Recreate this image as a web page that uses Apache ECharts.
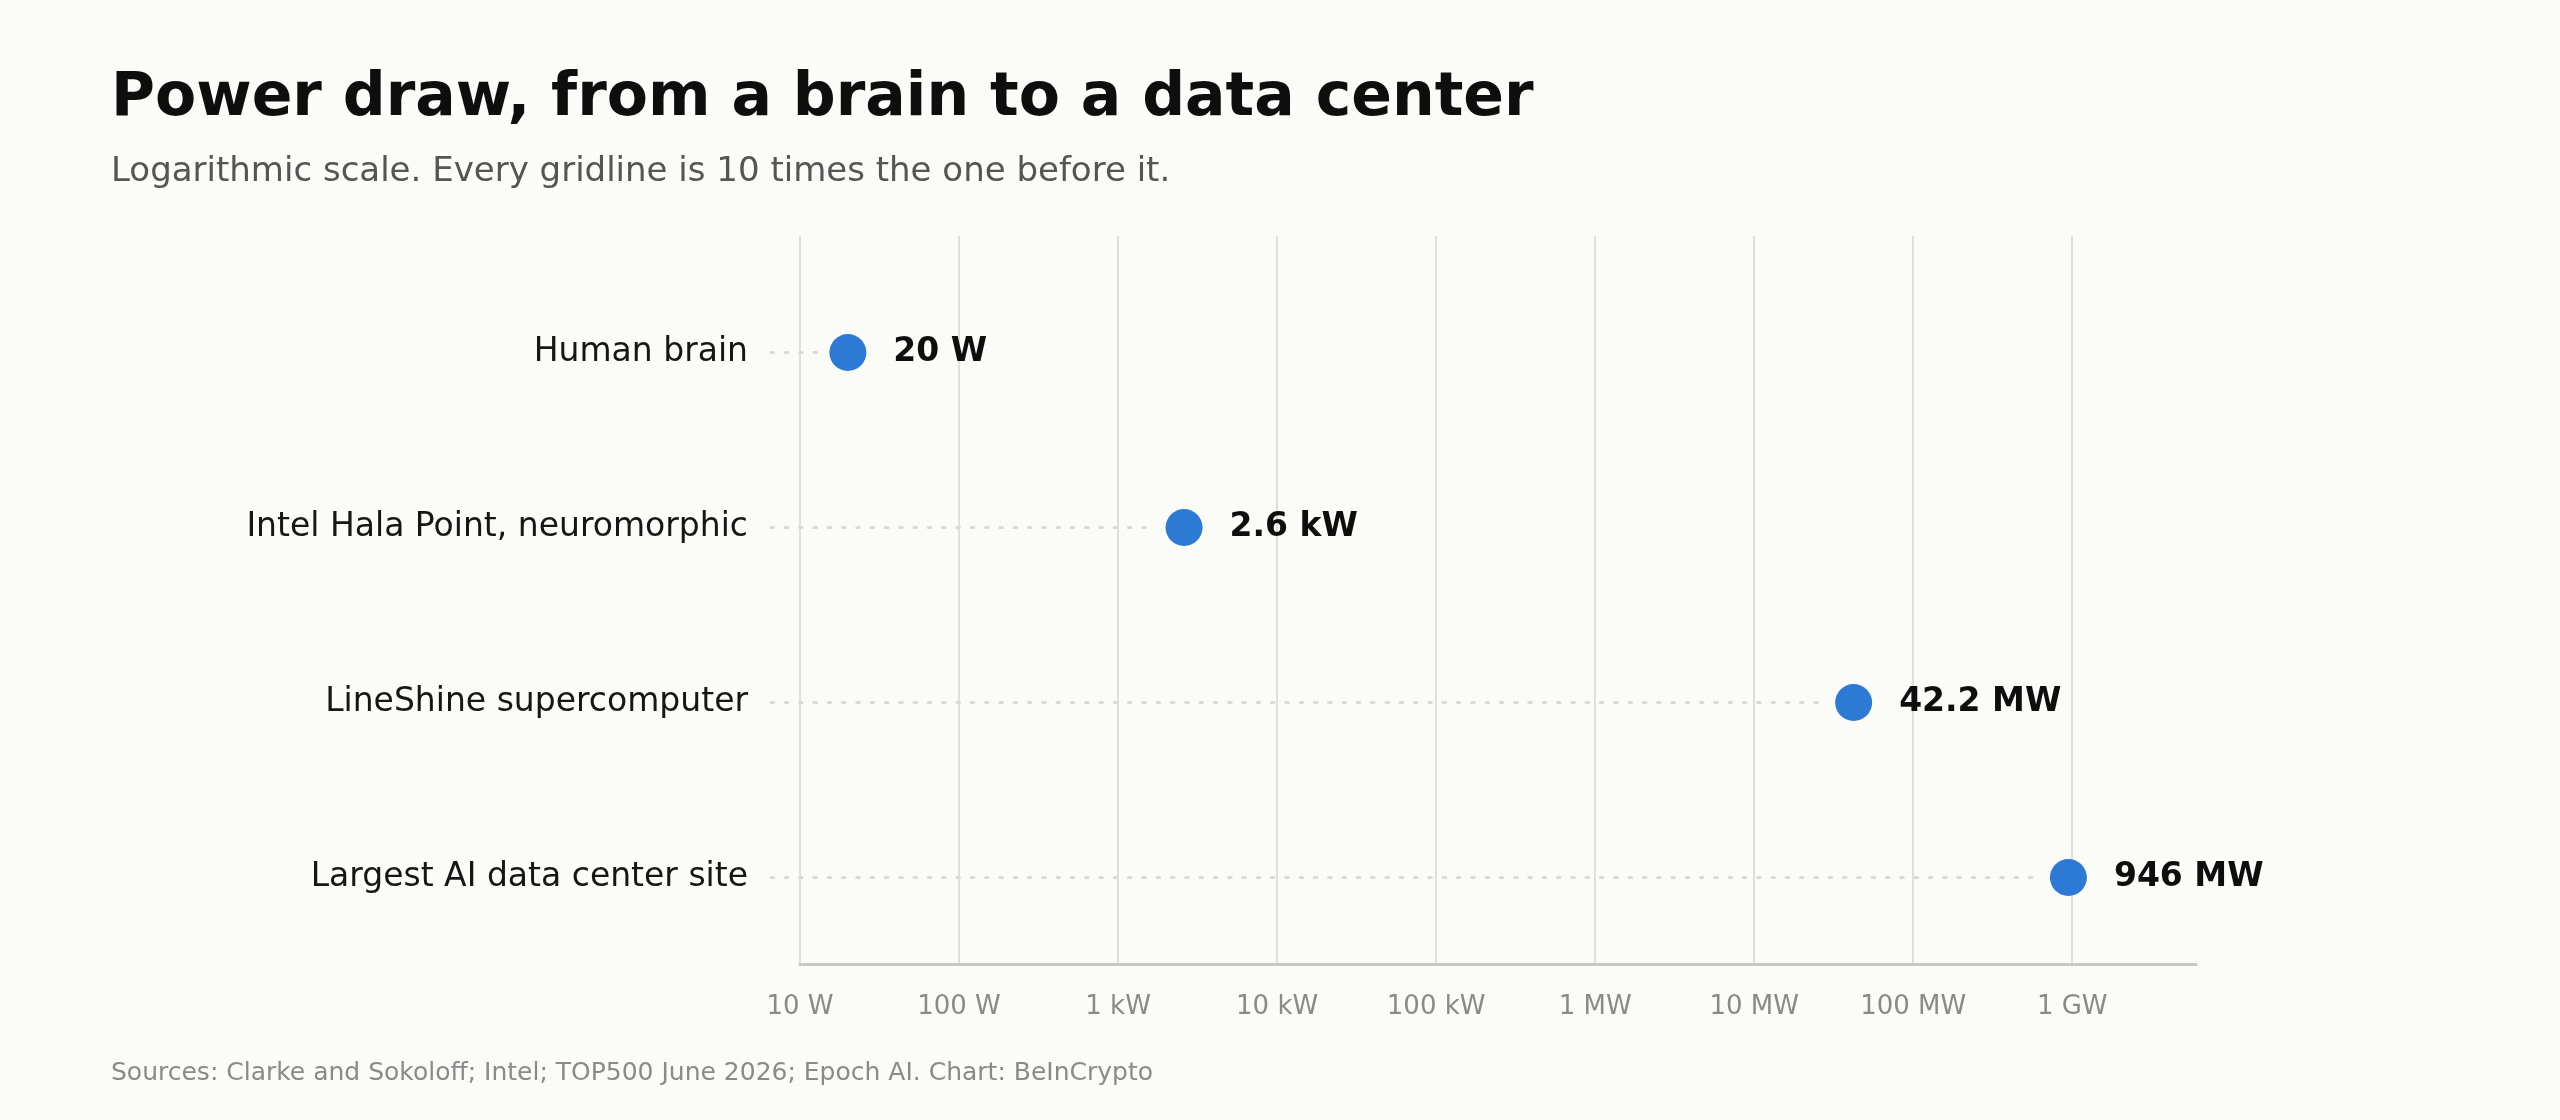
<!DOCTYPE html>
<html>
<head>
<meta charset="utf-8">
<script src="https://cdn.jsdelivr.net/npm/echarts@6/dist/echarts.min.js"></script>
<style>
html,body{margin:0;padding:0;background:#fbfbf7;}
#chart{width:2560px;height:1120px;}
</style>
</head>
<body>
<div id="chart"></div>
<script>
const categories = ["Human brain", "Intel Hala Point, neuromorphic", "LineShine supercomputer", "Largest AI data center site"];
const values = [20, 2600, 42200000, 946000000];
const valueLabels = ["20 W", "2.6 kW", "42.2 MW", "946 MW"];
const tickLabels = ["10 W", "100 W", "1 kW", "10 kW", "100 kW", "1 MW", "10 MW", "100 MW", "1 GW"];
const axisMin = 10;
const axisMax = 6e9;

const FONT = "DejaVu Sans";
const chart = echarts.init(document.getElementById('chart'), null, {renderer: 'canvas'});

const pointData = values.map((v, i) => [v, i]);

const option = {
  backgroundColor: '#fbfbf7',
  animation: false,
  textStyle: {fontFamily: FONT},
  graphic: [
    {type: 'text', left: 111, top: 69, style: {text: 'Power draw, from a brain to a data center', font: 'bold 60px "DejaVu Sans"', fill: '#0e0e0e'}},
    {type: 'text', left: 111, top: 155, style: {text: 'Logarithmic scale. Every gridline is 10 times the one before it.', font: '34px "DejaVu Sans"', fill: '#555555'}},
    {type: 'text', left: 111, top: 1061, style: {text: 'Sources: Clarke and Sokoloff; Intel; TOP500 June 2026; Epoch AI. Chart: BeInCrypto', font: '25px "DejaVu Sans"', fill: '#8a8a8a'}}
  ],
  grid: [
    {left: 800, right: 364, top: 236, bottom: 156},
    {left: 800, right: 364, top: 265, bottom: 155}
  ],
  xAxis: [
    {
      type: 'log', gridIndex: 0, logBase: 10, min: axisMin, max: axisMax, splitNumber: 10,
      axisLine: {show: true, lineStyle: {color: '#c9c9c1', width: 3}},
      axisTick: {show: false},
      splitLine: {show: true, showMaxLine: false, lineStyle: {color: '#e0e0db', width: 2}},
      axisLabel: {
        show: true, showMaxLabel: false, margin: 30, color: '#8a8a8a', fontSize: 26, fontFamily: FONT,
        formatter: function (v) {
          const e = Math.log10(v);
          const r = Math.round(e);
          if (Math.abs(e - r) > 1e-6) return '';
          return tickLabels[r - 1] || '';
        }
      }
    },
    {
      type: 'log', gridIndex: 1, logBase: 10, min: axisMin, max: axisMax, splitNumber: 10,
      axisLine: {show: false}, axisTick: {show: false}, splitLine: {show: false}, axisLabel: {show: false}
    }
  ],
  yAxis: [
    {type: 'value', gridIndex: 0, show: false, min: 0, max: 1, splitLine: {show: false}},
    {
      type: 'category', gridIndex: 1, inverse: true, data: categories,
      axisLine: {show: false}, axisTick: {show: false}, splitLine: {show: false},
      axisLabel: {margin: 52, color: '#161616', fontSize: 33, fontFamily: FONT}
    }
  ],
  series: [
    {
      type: 'custom', xAxisIndex: 1, yAxisIndex: 1, clip: false, silent: true,
      data: pointData,
      renderItem: function (params, api) {
        const pt = api.coord([api.value(0), api.value(1)]);
        const x0 = params.coordSys.x - 29;
        const x1 = pt[0] - 30;
        return {
          type: 'line',
          shape: {x1: x0, y1: pt[1], x2: x1, y2: pt[1]},
          style: {stroke: '#dadad4', lineWidth: 3, lineDash: [2.5, 11.8], lineCap: 'round'}
        };
      }
    },
    {
      type: 'scatter', xAxisIndex: 1, yAxisIndex: 1, clip: false,
      symbol: 'circle', symbolSize: 37,
      itemStyle: {color: '#2d7ad6', opacity: 1},
      data: pointData,
      label: {
        show: true, position: 'right', distance: 27,
        formatter: function (p) { return valueLabels[p.dataIndex]; },
        color: '#0e0e0e', fontSize: 33, fontWeight: 'bold', fontFamily: FONT
      }
    }
  ]
};
chart.setOption(option);
</script>
</body>
</html>
